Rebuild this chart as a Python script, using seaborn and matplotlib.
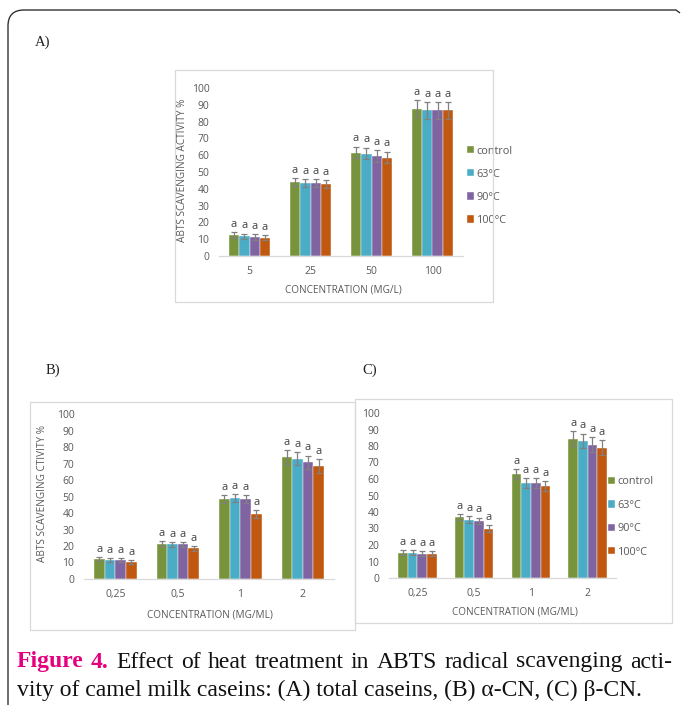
import numpy as np
import pandas as pd
import seaborn as sns
import matplotlib.pyplot as plt
from matplotlib.patches import Rectangle, PathPatch
from matplotlib.path import Path

sns.set_theme(style="white")
plt.rcParams["font.family"] = ["Open Sans", "DejaVu Sans"]

# ---- data ----
treatments = ["control", "63°C", "90°C", "100°C"]
colors = ["#77933C", "#4BACC6", "#8064A2", "#C0580F"]

conc_a = ["5", "25", "50", "100"]
total_control = [12.5, 44.0, 61.6, 87.6]
total_63 = [11.8, 43.5, 61.0, 86.8]
total_90 = [11.3, 43.5, 59.4, 86.8]
total_100 = [11.0, 42.7, 58.6, 86.8]
total_err = [1.5, 2.5, 3.5, 5.0]

conc_bc = ["0,25", "0,5", "1", "2"]
alpha_control = [12.1, 21.4, 48.3, 74.0]
alpha_63 = [11.6, 21.0, 49.1, 73.0]
alpha_90 = [11.6, 21.0, 48.3, 70.8]
alpha_100 = [10.1, 18.6, 39.2, 68.5]
alpha_err = [1.2, 1.5, 2.5, 4.0]

beta_control = [15.4, 37.0, 62.8, 84.5]
beta_63 = [15.2, 35.4, 57.6, 83.0]
beta_90 = [14.7, 34.6, 57.6, 80.8]
beta_100 = [14.7, 30.0, 56.0, 79.0]
beta_err = [1.5, 2.0, 3.0, 4.5]

W, H = 681, 708
fig = plt.figure(figsize=(W / 100, H / 100), dpi=100)
fig.patch.set_facecolor("white")

GRAY = "#595959"
TICK_SIZE = 7.5
TITLE_SIZE = 7.2


def long_frame(concs, series):
    rows = []
    for t, vals in zip(treatments, series):
        for c, v in zip(concs, vals):
            rows.append({"conc": c, "treatment": t, "value": v})
    return pd.DataFrame(rows)


def px_axes(left, right, top, bottom):
    return fig.add_axes([left / W, 1 - bottom / H, (right - left) / W, (bottom - top) / H])


def box(x0, y0, x1, y1):
    fig.add_artist(Rectangle((x0 / W, 1 - y1 / H), (x1 - x0) / W, (y1 - y0) / H,
                             transform=fig.transFigure, fill=False,
                             edgecolor="#d9d9d9", lw=0.9))


def panel(ax, concs, series, err):
    df = long_frame(concs, series)
    sns.barplot(data=df, x="conc", y="value", hue="treatment", order=concs,
                hue_order=treatments, palette=colors, saturation=1, width=0.68,
                errorbar=None, edgecolor="white", linewidth=0.3, legend=False, ax=ax)
    bar_groups = list(ax.containers)
    for cont in bar_groups:
        xs = [b.get_x() + b.get_width() / 2 for b in cont]
        ys = [b.get_height() for b in cont]
        ax.errorbar(xs, ys, yerr=err, fmt="none", ecolor="#808080",
                    elinewidth=0.9, capsize=2.4, capthick=0.9)
        for x, y, e in zip(xs, ys, err):
            ax.text(x, y + e + 1.3, "a", ha="center", va="bottom",
                    fontsize=8, color="#404040", clip_on=False)
    ax.set_ylim(0, 100)
    ax.set_xlim(-0.5, 3.5)
    ax.set_yticks(np.arange(0, 101, 10))
    ax.tick_params(axis="y", length=0, pad=7, labelsize=TICK_SIZE, labelcolor=GRAY)
    ax.tick_params(axis="x", length=0, pad=7, labelsize=TICK_SIZE, labelcolor=GRAY)
    ax.set_xlabel("")
    ax.set_ylabel("")
    for s in ["left", "right", "top"]:
        ax.spines[s].set_visible(False)
    ax.spines["bottom"].set_color("#d9d9d9")
    ax.spines["bottom"].set_linewidth(0.9)
    ax.set_facecolor("none")
    return ax, bar_groups


def legend(ax, bars, x, y, spacing):
    ax.legend(bars, treatments, loc="upper left",
              bbox_to_anchor=(x / W, 1 - y / H), bbox_transform=fig.transFigure,
              frameon=False, fontsize=7.8, labelcolor=GRAY, handlelength=0.65,
              handleheight=0.65, handletextpad=0.25, labelspacing=spacing, borderpad=0,
              borderaxespad=0)


# ---- outer frame ----
frame = Path([(8 / W, 1 - 705 / H), (8 / W, 1 - 26 / H), (8 / W, 1 - 10 / H), (24 / W, 1 - 10 / H),
              (676 / W, 1 - 10 / H), (680 / W, 1 - 13 / H)],
             [Path.MOVETO, Path.LINETO, Path.CURVE3, Path.CURVE3, Path.LINETO, Path.LINETO])
fig.add_artist(PathPatch(frame, transform=fig.transFigure, fill=False,
                         edgecolor="#333333", lw=1.0))

# ---- panel A ----
box(175, 70, 493, 302)
axA, barsA = panel(px_axes(219, 463, 88, 256), conc_a,
                   [total_control, total_63, total_90, total_100], total_err)
legend(axA, barsA, 467, 145.5, 1.12)
fig.text(182 / W, 1 - 170 / H, "ABTS SCAVENGING ACTIVITY %", rotation=90,
         ha="center", va="center", fontsize=TITLE_SIZE, color=GRAY)
fig.text(343 / W, 1 - 290 / H, "CONCENTRATION (MG/L)", ha="center", va="center",
         fontsize=TITLE_SIZE, color=GRAY)

# ---- panel B ----
box(30, 402, 355, 630)
axB, barsB = panel(px_axes(84, 334, 414, 579), conc_bc,
                   [alpha_control, alpha_63, alpha_90, alpha_100], alpha_err)
fig.text(43 / W, 1 - 494 / H, "ABTS SCAVENGING CTIVITY %", rotation=90,
         ha="center", va="center", fontsize=TITLE_SIZE, color=GRAY)
fig.text(210 / W, 1 - 615 / H, "CONCENTRATION (MG/ML)", ha="center", va="center",
         fontsize=TITLE_SIZE, color=GRAY)

# ---- panel C ----
box(355, 399, 672, 623)
axC, barsC = panel(px_axes(389, 616, 413, 578), conc_bc,
                   [beta_control, beta_63, beta_90, beta_100], beta_err)
legend(axC, barsC, 608, 476.5, 1.14)
fig.text(515 / W, 1 - 612 / H, "CONCENTRATION (MG/ML)", ha="center", va="center",
         fontsize=TITLE_SIZE, color=GRAY)

# ---- panel tags ----
serif = ["Liberation Serif", "DejaVu Serif"]
for tag, x, y in [("A)", 35, 42), ("B)", 46, 370), ("C)", 362, 370)]:
    fig.text(x / W, 1 - y / H, tag, ha="left", va="center", fontsize=10.5,
             family=serif, color="#222222")

# ---- caption: first line justified, second line flush left ----
CAP_SIZE = 17
fig.canvas.draw()
renderer = fig.canvas.get_renderer()
line1 = [("Figure", True), ("4.", True)] + [
    (w, False) for w in "Effect of heat treatment in ABTS radical scavenging acti-".split()]
y1 = 1 - 662 / H
items = []
for word, bold in line1:
    t = fig.text(0, y1, word, ha="left", va="center", fontsize=CAP_SIZE, family=serif,
                 weight="bold" if bold else "normal",
                 color="#E5007E" if bold else "#111111")
    items.append((t, t.get_window_extent(renderer).width))
left_px, right_px = 17, 672
gap = (right_px - left_px - sum(w for _, w in items)) / (len(items) - 1)
x = left_px
for t, w in items:
    t.set_x(x / W)
    x += w + gap
fig.text(17 / W, 1 - 690 / H,
         "vity of camel milk caseins: (A) total caseins, (B) α-CN, (C) β-CN.",
         ha="left", va="center", fontsize=CAP_SIZE, family=serif, color="#111111")

fig.savefig("out.png", dpi=100, facecolor="white")
